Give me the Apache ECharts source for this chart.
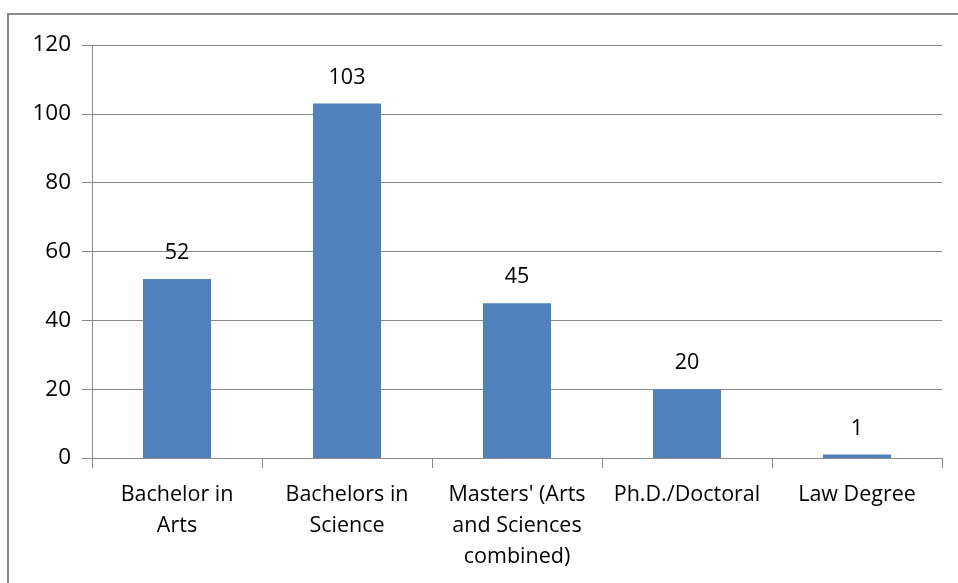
<!DOCTYPE html>
<html><head><meta charset="utf-8">
<script src="https://cdn.jsdelivr.net/npm/echarts@6/dist/echarts.min.js"></script>
<style>
html,body{margin:0;padding:0;background:#fff;}
#frame{position:absolute;left:7px;top:13px;width:1000px;height:700px;border-left:2px solid #8a8a8a;border-top:2px solid #8a8a8a;}
#c{position:absolute;left:0;top:0;width:958px;height:583px;}
</style></head>
<body>
<div id="frame"></div>
<div id="c"></div>
<script>
const categories = ["Bachelor in\nArts", "Bachelors in\nScience", "Masters' (Arts\nand Sciences\ncombined)", "Ph.D./Doctoral", "Law Degree"];
const values = [52, 103, 45, 20, 1];
const yTicks = {min: 0, max: 120, interval: 20};

const chart = echarts.init(document.getElementById('c'), null, {renderer: 'canvas'});
const font = "'Open Sans', Lato, sans-serif";
chart.setOption({
  animation: false,
  backgroundColor: 'transparent',
  grid: {left: 92, right: 16, top: 45, bottom: 125, containLabel: false},
  xAxis: {
    type: 'category',
    data: categories,
    axisLine: {lineStyle: {color: '#8a8a8a', width: 1}},
    axisTick: {show: true, length: 10, lineStyle: {color: '#8a8a8a'}},
    axisLabel: {color: '#000', fontFamily: font, fontSize: 21.5, lineHeight: 31, margin: 21, interval: 0}
  },
  yAxis: {
    type: 'value',
    min: yTicks.min, max: yTicks.max, interval: yTicks.interval,
    axisLine: {show: true, lineStyle: {color: '#8a8a8a', width: 1}},
    axisTick: {show: true, length: 10, lineStyle: {color: '#8a8a8a'}},
    splitLine: {lineStyle: {color: '#8a8a8a', width: 1}},
    axisLabel: {color: '#000', fontFamily: font, fontSize: 22.5, margin: 21}
  },
  series: [{
    type: 'bar',
    data: values,
    barWidth: '40%',
    itemStyle: {color: '#4F81BD'},
    label: {show: true, position: 'top', distance: 15, color: '#000', fontFamily: font, fontSize: 21.5}
  }]
});
</script>
</body></html>
